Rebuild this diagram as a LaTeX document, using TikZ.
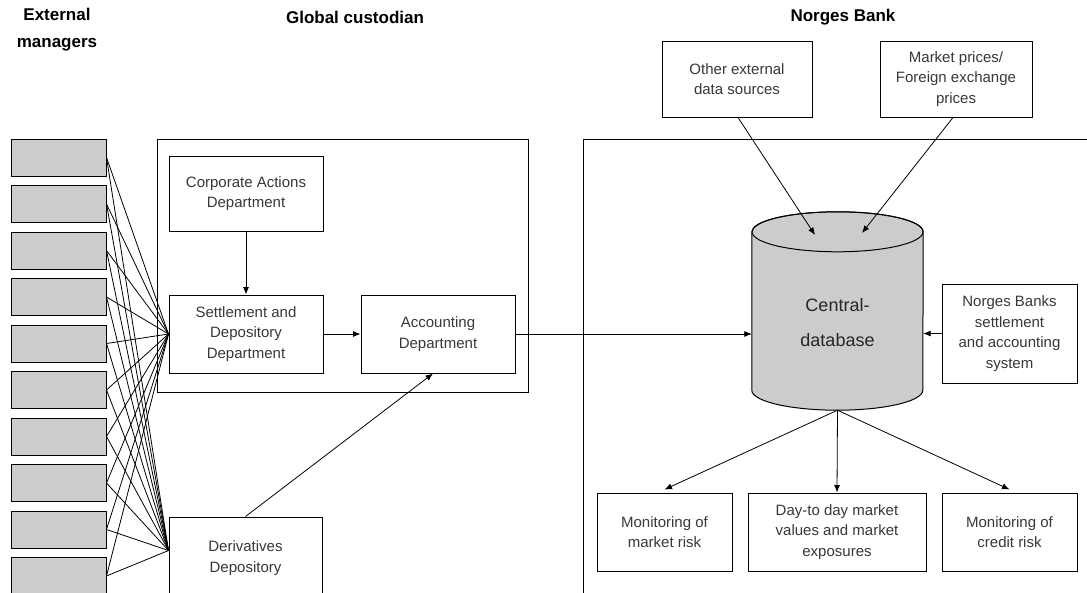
\documentclass[tikz,border=0pt]{standalone}
\usepackage{fontspec}
\setmainfont{Liberation Sans}
\usetikzlibrary{arrows.meta,calc}
\begin{document}
\begin{tikzpicture}[x=1pt,y=-1pt,
  frame/.style={draw=black, line width=1pt},
  box/.style={draw=black, line width=1pt, fill=white, align=center, text=black!78,
    font=\fontsize{15}{20.5}\selectfont, inner sep=0pt},
  mgr/.style={draw=black, line width=1pt, fill=black!20, minimum width=95pt,
    minimum height=37pt, inner sep=0pt},
  fan/.style={line width=0.8pt},
  arr/.style={line width=0.8pt, -{Latex[length=7.5pt,width=6pt]}},
  hdr/.style={font=\bfseries\fontsize{17}{27}\selectfont, align=center, inner sep=0pt},
  dbtext/.style={font=\fontsize{18}{35}\selectfont, align=center, text=black!85, inner sep=0pt}]
\useasboundingbox (0,0) rectangle (1087,592);

% headers
\node[hdr] (hext) at (57,30) {External\\managers};
\node[hdr] (hglob) at (355,17) {Global custodian};
\node[hdr] (hnor) at (843,17) {Norges Bank};

% frames
\draw[frame] (157,139) rectangle (528,392);
\draw[frame] (583,139) -- (1095,139);
\draw[frame] (583,139) -- (583,600);

% external managers
\foreach \i in {0,...,9}{
  \node[mgr] (m\i) at (58.5,{157.5+46.5*\i}) {};
}

% global custodian
\node[box, minimum width=154pt, minimum height=75pt] (corp) at (246,193.5) {Corporate Actions\\Department};
\node[box, minimum width=154pt, minimum height=78pt] (set) at (246,334) {Settlement and\\Depository\\Department};
\node[box, minimum width=154pt, minimum height=78pt] (acc) at (438,334) {Accounting\\Department};
\node[box, minimum width=153pt, minimum height=82pt] (der) at (245.5,558) {Derivatives\\Depository};
\coordinate (dj) at ([yshift=-34pt]der.north west);

% fan lines
\foreach \i in {0,...,9}{
  \draw[fan] (m\i.east) -- (set.west);
  \draw[fan] (m\i.east) -- (dj);
}

% Norges Bank
\node[box, minimum width=150pt, minimum height=76pt] (oth) at (737,79) {Other external\\data sources};
\node[box, minimum width=152pt, minimum height=76pt] (mkt) at (956,79) {Market prices/\\Foreign exchange\\prices};
\node[box, minimum width=135pt, minimum height=99pt] (nbs) at (1009.5,333.5) {Norges Banks\\settlement\\and accounting\\system};
\node[box, minimum width=135pt, minimum height=78pt] (mr) at (664.5,532) {Monitoring of\\market risk};
\node[box, minimum width=178pt, minimum height=78pt] (dd) at (837,532) {Day-to day market\\values and market\\exposures};
\node[box, minimum width=135pt, minimum height=78pt] (cr) at (1009.5,532) {Monitoring of\\credit risk};

% database cylinder
\node[minimum width=171pt, minimum height=158pt, inner sep=0pt] (db) at (837.5,311) {};
\filldraw[fill=black!20, line width=1pt] (db.north west) -- (db.south west)
  arc[start angle=180, end angle=360, x radius=85.5pt, y radius=20pt]
  -- (db.north east)
  arc[start angle=0, end angle=180, x radius=85.5pt, y radius=20pt] -- cycle;
\draw[line width=1pt] (db.north) ellipse [x radius=85.5pt, y radius=20pt];
\node[dbtext] (dbt) at (837.5,322.5) {Central-\\database};
\coordinate (dbbot) at ([yshift=-20pt]db.south);
\coordinate (dbin1) at (815,235);
\coordinate (dbin2) at (862,233);

% arrows
\draw[arr] (corp.south) -- (set.north);
\draw[arr] (set.east) -- (acc.west);
\draw[arr] (der.north) -- ([xshift=-5pt]acc.south);
\draw[arr] (acc.east) -- (acc.east -| db.west);
\draw[arr] (nbs.west) -- (nbs.west -| db.east);
\draw[arr] ([xshift=1pt]oth.south) -- (dbin1);
\draw[arr] ([xshift=-3pt]mkt.south) -- (dbin2);
\draw[arr] (dbbot) -- ([yshift=3pt]mr.north);
\draw[arr] (dbbot) -- (dd.north);
\draw[arr] (dbbot) -- ([yshift=3pt]cr.north);
\end{tikzpicture}
\end{document}
